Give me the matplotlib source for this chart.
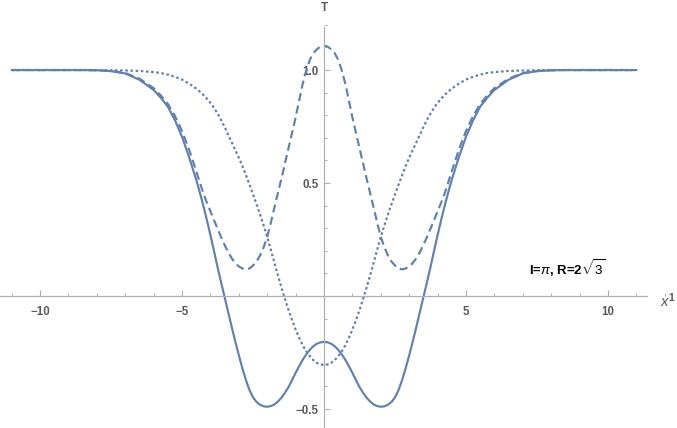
import matplotlib
matplotlib.use("Agg")
import matplotlib.pyplot as plt
from matplotlib.ticker import MultipleLocator, FixedLocator

# ---- data (curves are symmetric in x) ----
x_vals = [-11.0, -10.5, -10.0, -9.5, -9.0, -8.5, -8.0, -7.5, -7.0, -6.5, -6.0,
          -5.75, -5.5, -5.25, -5.0, -4.75,
          -4.5, -4.375, -4.25, -4.125, -4.0, -3.875, -3.75, -3.625, -3.5,
          -3.375, -3.25, -3.125, -3.0, -2.875, -2.75, -2.625, -2.5,
          -2.375, -2.25, -2.125, -2.0, -1.875, -1.75, -1.625, -1.5,
          -1.375, -1.25, -1.125, -1.0, -0.875, -0.75, -0.625, -0.5,
          -0.375, -0.25, -0.125, 0.0,
          0.125, 0.25, 0.375, 0.5, 0.625, 0.75, 0.875, 1.0,
          1.125, 1.25, 1.375, 1.5, 1.625, 1.75, 1.875, 2.0,
          2.125, 2.25, 2.375, 2.5, 2.625, 2.75, 2.875, 3.0,
          3.125, 3.25, 3.375, 3.5, 3.625, 3.75, 3.875, 4.0,
          4.125, 4.25, 4.375, 4.5,
          4.75, 5.0, 5.25, 5.5, 5.75,
          6.0, 6.5, 7.0, 7.5, 8.0, 8.5, 9.0, 9.5, 10.0, 10.5, 11.0]

solid = [1.0, 1.0, 1.0, 1.0, 1.0, 1.0, 0.999, 0.995, 0.985, 0.957, 0.912,
         0.878, 0.838, 0.778, 0.705, 0.615,
         0.515, 0.459, 0.400, 0.337, 0.270, 0.200, 0.128, 0.061, -0.005,
         -0.071, -0.137, -0.201, -0.262, -0.320, -0.372, -0.416, -0.448,
         -0.469, -0.481, -0.488, -0.490, -0.487, -0.480, -0.467, -0.450,
         -0.428, -0.403, -0.372, -0.340, -0.310, -0.282, -0.258, -0.238,
         -0.222, -0.211, -0.205, -0.203,
         -0.205, -0.211, -0.222, -0.238, -0.258, -0.282, -0.310, -0.340,
         -0.372, -0.403, -0.428, -0.450, -0.467, -0.480, -0.487, -0.490,
         -0.488, -0.481, -0.469, -0.448, -0.416, -0.372, -0.320, -0.262,
         -0.201, -0.137, -0.071, -0.005, 0.061, 0.128, 0.200, 0.270,
         0.337, 0.400, 0.459, 0.515,
         0.615, 0.705, 0.778, 0.838, 0.878,
         0.912, 0.957, 0.985, 0.995, 0.999, 1.0, 1.0, 1.0, 1.0, 1.0, 1.0]

dashed = [1.0, 1.0, 1.0, 1.0, 1.0, 1.0, 0.999, 0.996, 0.987, 0.962, 0.920,
          0.888, 0.850, 0.797, 0.730, 0.648,
          0.553, 0.503, 0.455, 0.413, 0.375, 0.336, 0.298, 0.261, 0.226,
          0.194, 0.167, 0.146, 0.131, 0.122, 0.118, 0.122, 0.135,
          0.153, 0.180, 0.216, 0.262, 0.323, 0.390, 0.455, 0.520,
          0.587, 0.655, 0.722, 0.790, 0.866, 0.940, 0.998, 1.045,
          1.075, 1.092, 1.104, 1.108,
          1.104, 1.092, 1.075, 1.045, 0.998, 0.940, 0.866, 0.790,
          0.722, 0.655, 0.587, 0.520, 0.455, 0.390, 0.323, 0.262,
          0.216, 0.180, 0.153, 0.135, 0.122, 0.118, 0.122, 0.131,
          0.146, 0.167, 0.194, 0.226, 0.261, 0.298, 0.336, 0.375,
          0.413, 0.455, 0.503, 0.553,
          0.648, 0.730, 0.797, 0.850, 0.888,
          0.920, 0.962, 0.987, 0.996, 0.999, 1.0, 1.0, 1.0, 1.0, 1.0, 1.0]

dotted = [1.0, 1.0, 1.0, 1.0, 1.0, 1.0, 1.0, 0.999, 0.998, 0.996, 0.991,
          0.987, 0.980, 0.970, 0.958, 0.940,
          0.918, 0.905, 0.890, 0.873, 0.855, 0.833, 0.808, 0.779, 0.748,
          0.714, 0.680, 0.646, 0.612, 0.575, 0.535, 0.493, 0.450,
          0.406, 0.360, 0.312, 0.262, 0.206, 0.148, 0.092, 0.038,
          -0.013, -0.062, -0.107, -0.148, -0.185, -0.218, -0.245, -0.266,
          -0.284, -0.296, -0.303, -0.305,
          -0.303, -0.296, -0.284, -0.266, -0.245, -0.218, -0.185, -0.148,
          -0.107, -0.062, -0.013, 0.038, 0.092, 0.148, 0.206, 0.262,
          0.312, 0.360, 0.406, 0.450, 0.493, 0.535, 0.575, 0.612,
          0.646, 0.680, 0.714, 0.748, 0.779, 0.808, 0.833, 0.855,
          0.873, 0.890, 0.905, 0.918,
          0.940, 0.958, 0.970, 0.980, 0.987,
          0.991, 0.996, 0.998, 0.999, 1.0, 1.0, 1.0, 1.0, 1.0, 1.0, 1.0]

x_major = [-10, -5, 5, 10]
x_major_labels = ["\u221210", "\u22125", "5", "10"]
y_major = [-0.5, 0.5, 1.0]
y_major_labels = ["\u22120.5", "0.5", "1.0"]
annotation = r"l=$\pi$, R=2$\sqrt{3}$"

color = "#5E81B5"
axis_color = "#b0b0b0"
label_color = "#5a5a5a"

plt.rcParams["font.family"] = ["Liberation Sans", "DejaVu Sans"]
plt.rcParams["mathtext.fontset"] = "custom"
plt.rcParams["mathtext.rm"] = "Liberation Sans"
plt.rcParams["mathtext.it"] = "Liberation Sans:italic"
plt.rcParams["mathtext.bf"] = "Liberation Sans:bold"

fig = plt.figure(figsize=(6.77, 4.28), dpi=100)
ax = fig.add_axes([0, 0, 1, 1])
ax.set_xlim(-11.41, 12.43)
ax.set_ylim(-0.584, 1.310)

ax.plot(x_vals, solid, color=color, lw=1.55, solid_capstyle="round",
        solid_joinstyle="round")
ax.plot(x_vals, dashed, color=color, lw=1.55, dashes=(3.8, 2.1))
ax.plot(x_vals, dotted, color=color, lw=1.55, dashes=(1.2, 1.2))

for s in ["top", "right"]:
    ax.spines[s].set_visible(False)
ax.spines["left"].set_position(("data", 0))
ax.spines["bottom"].set_position(("data", 0))
ax.spines["left"].set_bounds(-0.584, 1.19)
ax.spines["bottom"].set_bounds(-11.41, 11.37)
for s in ["left", "bottom"]:
    ax.spines[s].set_color(axis_color)
    ax.spines[s].set_linewidth(0.9)

ax.xaxis.set_major_locator(FixedLocator(x_major))
ax.set_xticklabels(x_major_labels)
ax.xaxis.set_minor_locator(MultipleLocator(1))
ax.yaxis.set_major_locator(FixedLocator(y_major))
ax.set_yticklabels(y_major_labels)
ax.yaxis.set_minor_locator(MultipleLocator(0.1))

tick_font = dict(labelsize=8.3, labelcolor=label_color)
ax.tick_params(axis="x", which="major", direction="in", length=4.5, width=0.8,
               color=axis_color, pad=7, **tick_font)
ax.tick_params(axis="x", which="minor", direction="in", length=2.5, width=0.7,
               color=axis_color)
ax.tick_params(axis="y", which="major", direction="in", length=4.5, width=0.8,
               color=axis_color, pad=4, **tick_font)
ax.tick_params(axis="y", which="minor", direction="in", length=2.5, width=0.7,
               color=axis_color)
for lab in ax.get_xticklabels() + ax.get_yticklabels():
    lab.set_fontweight("bold")

ax.text(0, 1.275, "T", ha="center", va="center", fontsize=8.5,
        color=label_color, fontweight="bold")
ax.text(12.1, -0.02, r"$x^{\mathbf{1}}$", ha="center", va="center",
        fontsize=10.5, color=label_color)
ax.text(8.58, 0.124, annotation, ha="center", va="center", fontsize=9.5,
        color="black", fontweight="bold")

fig.savefig("out.png", dpi=100)
